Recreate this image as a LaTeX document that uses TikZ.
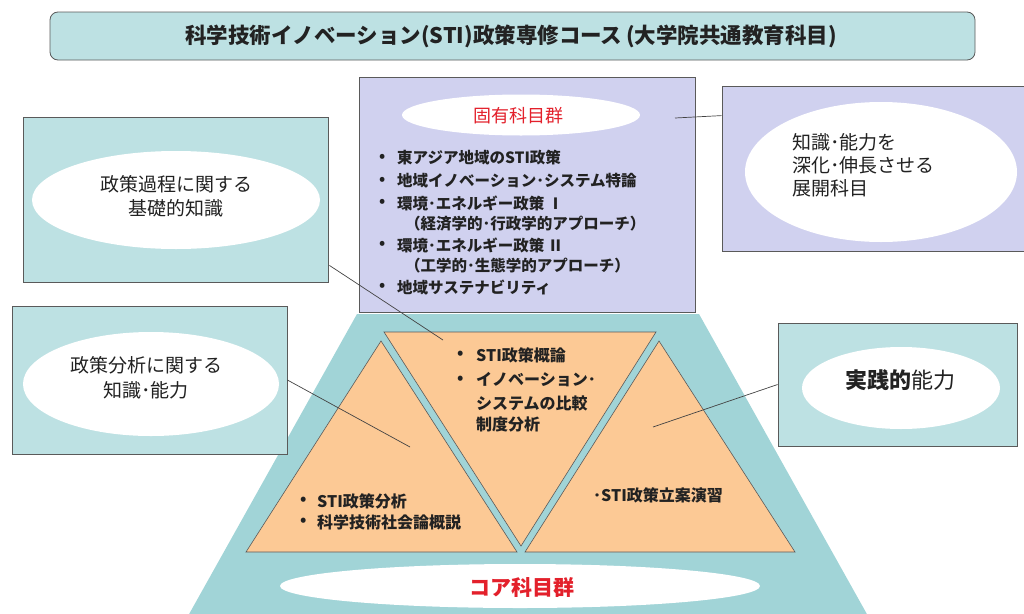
\documentclass[tikz,border=0pt]{standalone}
\usepackage{fontspec}
\setmainfont{Noto Sans CJK JP}
\definecolor{tealbox}{HTML}{BDE1E3}
\definecolor{trap}{HTML}{A1D4D7}
\definecolor{lav}{HTML}{D0D1EF}
\definecolor{peach}{HTML}{FCC995}
\definecolor{redtxt}{HTML}{E3202B}
\definecolor{ink}{HTML}{222222}
\definecolor{edge}{HTML}{5A5A5A}
\begin{document}
\begin{tikzpicture}[x=1pt,y=-1pt,
  box/.style={draw=edge, line width=0.8pt, inner sep=0pt},
  tri/.style={fill=peach, draw=edge, line width=0.6pt},
  conn/.style={draw=ink!85, line width=0.7pt},
  lbl/.style={inner sep=0pt, text=ink, align=center},
  item/.style={inner sep=0pt, anchor=west, text=ink, font=\fontsize{15.5}{18}\selectfont\bfseries},
  titem/.style={inner sep=0pt, anchor=west, text=ink, font=\fontsize{16}{19}\selectfont\bfseries},
  oval/.style={fill=white}
]
\useasboundingbox (0,0) rectangle (1024,613);

% title
\node[box, rounded corners=8pt, fill=tealbox, minimum width=925pt, minimum height=48pt] (title) at (512.5,36) {};
\node[lbl, font=\fontsize{21.5}{24}\selectfont\bfseries] (titletext) at (511,36) {科学技術イノベーション(STI)政策専修コース\,(大学院共通教育科目)};

% trapezoid and triangles
\fill[trap] (357,314) -- (699,314) -- (868,616) -- (188,616) -- cycle;
\path[tri] (384,332) -- (656,332) -- (521,546) -- cycle;
\path[tri] (381,341) -- (246,552) -- (517,552) -- cycle;
\path[tri] (659,341) -- (525,552) -- (795,552) -- cycle;
\fill[oval] (520,586) ellipse [x radius=240, y radius=22];
\node[lbl, text=redtxt, font=\fontsize{21}{24}\selectfont\bfseries] (core) at (522,587) {コア科目群};

% top purple box
\node[box, fill=lav, minimum width=336pt, minimum height=235pt] (spec) at (527,194.5) {};
\fill[oval] (521,115) ellipse [x radius=119, y radius=20.5];
\node[lbl, text=redtxt, font=\fontsize{18}{22}\selectfont] (spectitle) at (518,116) {固有科目群};
\node[item] (b1) at (379,158) {•};
\node[item] (i1) at (397,158) {東アジア地域のSTI政策};
\node[item] (b2) at (379,181) {•};
\node[item] (i2) at (397,181) {地域イノベーション･システム特論};
\node[item] (b3) at (379,203) {•};
\node[item] (i3) at (397,203) {環境･エネルギー政策 Ⅰ};
\node[item] (i3b) at (405,224) {（経済学的･行政学的アプローチ）};
\node[item] (b4) at (379,245) {•};
\node[item] (i4) at (397,245) {環境･エネルギー政策 Ⅱ};
\node[item] (i4b) at (405,266) {（工学的･生態学的アプローチ）};
\node[item] (b5) at (379,287) {•};
\node[item] (i5) at (397,287) {地域サステナビリティ};

% side boxes
\node[box, fill=tealbox, minimum width=305pt, minimum height=165pt] (tlbox) at (175.5,199.5) {};
\fill[oval] (176,200) ellipse [x radius=144, y radius=49];
\node[lbl, font=\fontsize{19}{24}\selectfont] (tltext) at (176,196) {政策過程に関する\\基礎的知識};

\node[box, fill=tealbox, minimum width=275pt, minimum height=148pt] (lmbox) at (149.5,380) {};
\fill[oval] (151,384) ellipse [x radius=128, y radius=52];
\node[lbl, font=\fontsize{19}{25}\selectfont] (lmtext) at (146,378) {政策分析に関する\\知識･能力};

\node[box, fill=lav, minimum width=308pt, minimum height=165pt] (rtbox) at (876,168.5) {};
\fill[oval] (881,172) ellipse [x radius=136, y radius=70];
\node[lbl, align=left, anchor=west, font=\fontsize{19}{23}\selectfont] (rttext) at (792,165) {知識･能力を\\深化･伸長させる\\展開科目};

\node[box, fill=tealbox, minimum width=239pt, minimum height=123pt] (rmbox) at (897.5,384.5) {};
\fill[oval] (901,388) ellipse [x radius=99, y radius=41];
\node[lbl, font=\fontsize{22}{26}\selectfont] (rmtext) at (900,380) {\textbf{実践的}能力};

% triangle texts
\node[titem] (m1b) at (457,355) {•};
\node[titem] (m1) at (476,355) {STI政策概論};
\node[titem] (m2b) at (457,380) {•};
\node[titem] (m2) at (476,380) {イノベーション･};
\node[titem] (m3) at (476,403) {システムの比較};
\node[titem] (m4) at (476,424) {制度分析};
\node[titem] (l1b) at (300,501) {•};
\node[titem] (l1) at (317,501) {STI政策分析};
\node[titem] (l2b) at (300,522) {•};
\node[titem] (l2) at (317,522) {科学技術社会論概説};
\node[titem] (r1) at (593,495) {･STI政策立案演習};

% connectors
\coordinate (c1) at (443,340);
\coordinate (c2) at (410,447);
\coordinate (c3) at (653,427);
\coordinate (c4) at (675,118);
\draw[conn] (tlbox.south east) ++(1,-17) -- (c1);
\draw[conn] (lmbox.east) -- (c2);
\draw[conn] (c3) -- (rmbox.west);
\draw[conn] (c4) -- ([yshift=-30pt]rtbox.north west);
\end{tikzpicture}
\end{document}
